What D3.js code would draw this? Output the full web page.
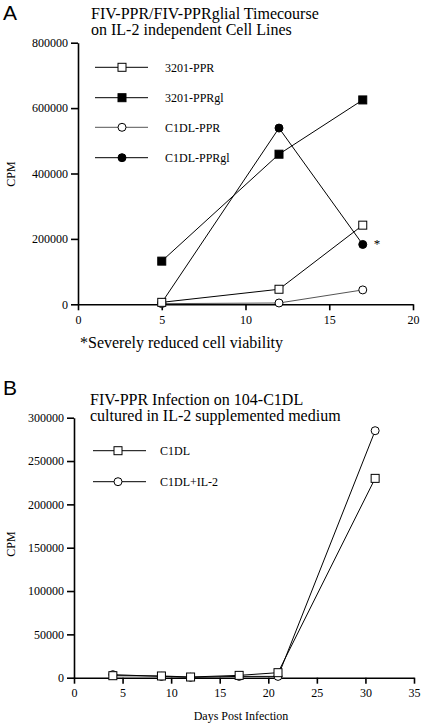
<!DOCTYPE html>
<html><head><meta charset="utf-8">
<script src="https://cdn.jsdelivr.net/npm/d3@7"></script>
<style>
html,body{margin:0;padding:0;background:#fff;}
svg text{font-family:"Liberation Serif","Times New Roman",serif;fill:#000;}
</style></head>
<body><svg id="c" width="421" height="725"></svg>
<script>
// ---- Panel A data ----
const daysA = [5, 12, 17];
const s3201PPR   = [6000, 46000, 242000];
const s3201PPRgl = [132000, 459000, 625000];
const sC1DLPPR   = [2000, 4000, 44000];
const sC1DLPPRgl = [5000, 539000, 183000];
const seriesNamesA = ["3201-PPR", "3201-PPRgl", "C1DL-PPR", "C1DL-PPRgl"];
const xTicksA = [0, 5, 10, 15, 20];
const yTicksA = [0, 200000, 400000, 600000, 800000];
const titleA = ["FIV-PPR/FIV-PPRglial Timecourse", "on IL-2 independent Cell Lines"];

// ---- Panel B data ----
const daysB = [4, 9, 12, 17, 21, 31];
const sC1DL     = [2300, 2000, 800, 2700, 5800, 230000];
const sC1DLIL2  = [3500, 1500, 500, 1500, 1500, 285000];
const seriesNamesB = ["C1DL", "C1DL+IL-2"];
const xTicksB = [0, 5, 10, 15, 20, 25, 30, 35];
const yTicksB = [0, 50000, 100000, 150000, 200000, 250000, 300000];
const titleB = ["FIV-PPR Infection on 104-C1DL", "cultured in IL-2 supplemented medium"];

const svg = d3.select("#c");

function marker(g, type, x, y) {
  if (type === "sq-open" || type === "sq-fill") {
    g.append("rect").attr("x", x - 4).attr("y", y - 4).attr("width", 8).attr("height", 8)
      .attr("fill", type === "sq-fill" ? "#000" : "#fff").attr("stroke", "#000").attr("stroke-width", 1);
  } else {
    g.append("circle").attr("cx", x).attr("cy", y).attr("r", 4)
      .attr("fill", type === "ci-fill" ? "#000" : "#fff").attr("stroke", "#000").attr("stroke-width", 1);
  }
}

function styleAxis(g) {
  g.select(".domain").attr("stroke", "#000").attr("stroke-width", 1.6);
  g.selectAll(".tick line").attr("stroke", "#000").attr("stroke-width", 1.6);
  g.selectAll(".tick text").style("font-family", "'Liberation Serif','Times New Roman',serif")
    .style("font-size", "12px").attr("fill", "#000");
}

function panel(cfg) {
  const x = d3.scaleLinear().domain(cfg.xDomain).range(cfg.xRange);
  const y = d3.scaleLinear().domain(cfg.yDomain).range(cfg.yRange);
  const g = svg.append("g");

  const xa = g.append("g").attr("transform", `translate(0,${cfg.yRange[0]})`)
    .call(d3.axisBottom(x).tickValues(cfg.xTicks).tickSize(6).tickSizeOuter(0).tickPadding(5).tickFormat(d3.format("d")));
  styleAxis(xa);
  const ya = g.append("g").attr("transform", `translate(${cfg.xRange[0]},0)`)
    .call(d3.axisLeft(y).tickValues(cfg.yTicks).tickSize(7).tickSizeOuter(0).tickPadding(3).tickFormat(d3.format("d")));
  styleAxis(ya);

  const line = d3.line().x(d => x(d[0])).y(d => y(d[1]));
  cfg.series.forEach(s => {
    g.append("path").datum(cfg.days.map((d, i) => [d, s.values[i]]))
      .attr("d", line).attr("fill", "none").attr("stroke", s.stroke || "#000").attr("stroke-width", 1);
  });
  cfg.drawOrder.forEach(k => {
    const s = cfg.series[k];
    cfg.days.forEach((d, i) => marker(g, s.type, x(d), y(s.values[i])));
  });
  cfg.series.forEach((s, i) => {
    const ly = cfg.legend.y[i];
    g.append("line").attr("x1", cfg.legend.x1).attr("x2", cfg.legend.x2).attr("y1", ly).attr("y2", ly)
      .attr("stroke", s.stroke || "#000").attr("stroke-width", 1);
    marker(g, s.type, cfg.legend.xm, ly);
    g.append("text").attr("x", cfg.legend.xt).attr("y", ly).attr("dy", "0.35em")
      .style("font-size", "12px").text(s.name);
  });
  cfg.title.forEach((t, i) => {
    g.append("text").attr("x", cfg.titleX).attr("y", cfg.titleY[i]).style("font-size", "16px").text(t);
  });
  g.append("text").attr("x", 3).attr("y", cfg.letterY).text(cfg.letter)
    .style("font-family", "'Liberation Sans',Arial,sans-serif").style("font-size", "21px");
  g.append("text").attr("transform", `translate(15,${cfg.cpmY}) rotate(-90)`).attr("text-anchor", "middle")
    .style("font-size", "12px").text("CPM");
  return {x, y, g};
}

const A = panel({
  xDomain: [0, 20], xRange: [78, 413],
  yDomain: [0, 800000], yRange: [304.3, 42.7],
  xTicks: xTicksA, yTicks: yTicksA, days: daysA,
  series: [
    {name: seriesNamesA[0], values: s3201PPR, type: "sq-open"},
    {name: seriesNamesA[1], values: s3201PPRgl, type: "sq-fill"},
    {name: seriesNamesA[2], values: sC1DLPPR, type: "ci-open", stroke: "#555"},
    {name: seriesNamesA[3], values: sC1DLPPRgl, type: "ci-fill"}
  ],
  drawOrder: [3, 2, 1, 0],
  legend: {x1: 95, x2: 148, xm: 122, xt: 165, y: [67.3, 97.7, 127.3, 157.7]},
  title: titleA, titleX: 91, titleY: [19, 34.5],
  letter: "A", letterY: 19.5, cpmY: 174
});
A.g.append("text").attr("x", A.x(17) + 11).attr("y", A.y(sC1DLPPRgl[2]) + 4).style("font-size", "13px").text("*");
A.g.append("text").attr("x", 80).attr("y", 348).style("font-size", "16px").text("*Severely reduced cell viability");

const B = panel({
  xDomain: [0, 35], xRange: [74, 414],
  yDomain: [0, 300000], yRange: [677.7, 417.7],
  xTicks: xTicksB, yTicks: yTicksB, days: daysB,
  series: [
    {name: seriesNamesB[0], values: sC1DL, type: "sq-open"},
    {name: seriesNamesB[1], values: sC1DLIL2, type: "ci-open"}
  ],
  drawOrder: [1, 0],
  legend: {x1: 93, x2: 146, xm: 118, xt: 160, y: [450.7, 481.7]},
  title: titleB, titleX: 90, titleY: [405, 420.5],
  letter: "B", letterY: 395, cpmY: 544
});
B.g.append("text").attr("x", 241).attr("y", 720).attr("text-anchor", "middle").style("font-size", "12px").text("Days Post Infection");
</script>
</body></html>
